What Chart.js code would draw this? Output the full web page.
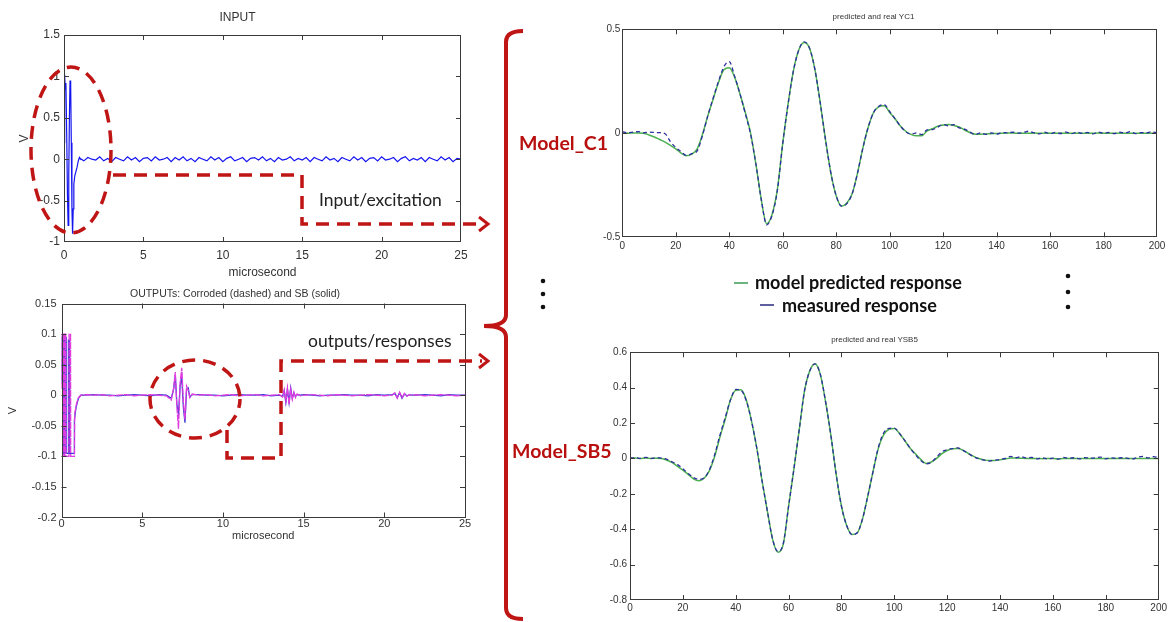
<!DOCTYPE html>
<html>
<head>
<meta charset="utf-8">
<script src="https://cdn.jsdelivr.net/npm/chart.js@4.4.1/dist/chart.umd.min.js"></script>
<style>
  html, body { margin: 0; padding: 0; background: #fff; }
  #page { position: relative; width: 1171px; height: 622px; overflow: hidden; background: #fff; }
  canvas { position: absolute; }
  svg.overlay { position: absolute; left: 0; top: 0; pointer-events: none; }
  .note { position: absolute; white-space: nowrap; font-family: Lato, 'Open Sans', sans-serif; color: #222; font-size: 17.5px; line-height: 18px; }
  .model { position: absolute; white-space: nowrap; font-family: Lato, 'Open Sans', sans-serif; font-weight: bold; color: #b8100f; font-size: 19.5px; line-height: 20px; }
  .leg { position: absolute; white-space: nowrap; font-family: Lato, 'Open Sans', sans-serif; font-weight: bold; color: #111; font-size: 18px; line-height: 18px; }
</style>
</head>
<body>
<div id="page">
  <canvas id="inputChart"></canvas>
  <canvas id="outputChart"></canvas>
  <canvas id="yc1Chart"></canvas>
  <canvas id="ysb5Chart"></canvas>

  <svg class="overlay" width="1171" height="622">
    <g fill="none" stroke="#bf1515" stroke-width="3.5" stroke-dasharray="13 8">
      <ellipse cx="71" cy="150" rx="40" ry="83"/>
      <polyline points="113,175 302,175 302,224 482,224"/>
      <ellipse cx="195" cy="399" rx="45" ry="39" stroke-dashoffset="4"/>
      <polyline points="227,430 227,458 281,458 281,361 482,361"/>
    </g>
    <g fill="none" stroke="#bf1515" stroke-width="3">
      <polyline points="479,217 488,224 479,231"/>
      <polyline points="479,354 488,361 479,368"/>
    </g>
    <path d="M523 31 Q506 31 506 42 L506 315 Q506 326 484 326 Q506 326 506 337 L506 608 Q506 619 523 619"
          fill="none" stroke="#bf1515" stroke-width="4"/>
    <g fill="#111">
      <circle cx="543" cy="281" r="2.3"/>
      <circle cx="543" cy="294" r="2.3"/>
      <circle cx="543" cy="307" r="2.3"/>
      <circle cx="1068" cy="276" r="2.3"/>
      <circle cx="1068" cy="292" r="2.3"/>
      <circle cx="1068" cy="307" r="2.3"/>
    </g>
    <line x1="734" y1="283" x2="748" y2="283" stroke="#3a9a55" stroke-width="1.5"/>
    <line x1="760" y1="305" x2="774" y2="305" stroke="#2a2a80" stroke-width="1.5"/>
  </svg>

  <div class="note" style="left:319px; top:191px;">Input/excitation</div>
  <div class="note" style="left:308px; top:332px;">outputs/responses</div>
  <div class="model" style="left:519px; top:133px;">Model_C1</div>
  <div class="model" style="left:512px; top:441px;">Model_SB5</div>
  <div class="leg" style="left:755px; top:273px;">model predicted response</div>
  <div class="leg" style="left:782px; top:296px;">measured response</div>
</div>

<script>
// ---- INPUT (excitation) ----
const inPulseT = [0, 0.04, 0.08, 0.12, 0.17, 0.22, 0.26, 0.3, 0.34, 0.38, 0.42, 0.46, 0.5, 0.54, 0.58, 0.62, 0.68, 0.75, 0.82, 0.9, 0.97];
const inPulseV = [0.2, 1.02, 0.85, 0.92, 0.3, -0.45, -0.8, -0.2, 0.5, 0.95, 0.9, 0.2, -0.6, -0.9, -0.6, -0.3, -0.2, -0.15, -0.1, -0.02, 0.02];
const inNoiseT = [1, 1.25, 1.5, 1.75, 2, 2.25, 2.5, 2.75, 3, 3.25, 3.5, 3.75, 4, 4.25, 4.5, 4.75,
  5, 5.25, 5.5, 5.75, 6, 6.25, 6.5, 6.75, 7, 7.25, 7.5, 7.75, 8, 8.25, 8.5, 8.75,
  9, 9.25, 9.5, 9.75, 10, 10.25, 10.5, 10.75, 11, 11.25, 11.5, 11.75, 12, 12.25, 12.5, 12.75,
  13, 13.25, 13.5, 13.75, 14, 14.25, 14.5, 14.75, 15, 15.25, 15.5, 15.75, 16, 16.25, 16.5, 16.75,
  17, 17.25, 17.5, 17.75, 18, 18.25, 18.5, 18.75, 19, 19.25, 19.5, 19.75, 20, 20.25, 20.5, 20.75,
  21, 21.25, 21.5, 21.75, 22, 22.25, 22.5, 22.75, 23, 23.25, 23.5, 23.75, 24, 24.25, 24.5, 24.75, 25];
const inNoiseV = [0.01, -0.02, 0.02, 0, -0.01, 0.03, -0.02, 0.01, -0.03, 0.02, 0, -0.02, 0.03, -0.01, 0.02, -0.03,
  0.01, 0.02, -0.02, 0.03, -0.01, 0, 0.02, -0.03, 0.02, -0.01, 0.03, -0.02, 0.01, -0.03, 0.02, 0,
  -0.02, 0.03, -0.01, 0.02, -0.03, 0.01, 0.03, -0.02, 0, 0.02, -0.03, 0.01, 0.02, -0.01, 0.03, -0.02,
  0.01, -0.03, 0.02, -0.01, 0, 0.03, -0.02, 0.01, -0.01, 0.02, -0.03, 0.02, 0, -0.02, 0.03, -0.01,
  0.01, -0.03, 0.02, 0, -0.02, 0.03, -0.01, 0.02, -0.03, 0.01, 0.02, -0.02, 0.03, -0.01, 0, 0.02,
  -0.03, 0.01, 0.03, -0.02, 0.01, -0.01, 0.02, -0.03, 0.02, 0, -0.02, 0.03, -0.01, 0.02, -0.03, 0.01, 0];
const inXTicks = [0, 5, 10, 15, 20, 25];
const inYTicks = [-1, -0.5, 0, 0.5, 1, 1.5];

// ---- OUTPUTS: corroded (dashed) and SB (solid) ----
const corrPulseT = [0, 0.03, 0.13, 0.14, 0.2, 0.21, 0.26, 0.27, 0.46, 0.47, 0.56, 0.57, 0.8, 0.82, 0.92, 1.05, 1.2];
const corrPulseV = [0.01, 0.1, 0.1, -0.1, -0.1, 0.1, 0.1, -0.1, -0.1, 0.1, 0.1, -0.1, -0.1, -0.03, -0.015, -0.004, 0];
const sbPulseT = [0, 0.03, 0.12, 0.13, 0.2, 0.21, 0.28, 0.29, 0.42, 0.43, 0.5, 0.51, 0.78, 0.8, 0.9, 1.05, 1.2];
const sbPulseV = [0.02, 0.095, 0.095, -0.095, -0.095, 0.095, 0.095, -0.095, -0.095, 0.09, 0.09, -0.095, -0.095, -0.04, -0.02, -0.005, 0];
const tailT = [1.5, 2, 2.5, 3, 3.5, 4, 4.5, 5, 5.5, 6, 6.5,
  6.8,
  6.95, 7.05, 7.15, 7.25, 7.35, 7.45, 7.55, 7.65, 7.75, 7.85,
  7.95, 8.1,
  8.5, 9, 9.5, 10, 10.5, 11, 11.5, 12, 12.5, 13, 13.5,
  13.7,
  13.8, 13.9, 14, 14.1, 14.2, 14.3, 14.4, 14.5, 14.6,
  14.8, 15,
  15.5, 16, 16.5, 17, 17.5, 18, 18.5, 19, 19.5, 20, 20.5,
  20.65, 20.8, 20.95, 21.1, 21.25, 21.4, 21.55, 21.7,
  22, 22.5, 23, 23.5, 24, 24.5, 25];
const corrTail = [0.001, 0, 0.001, -0.001, 0, 0.001, -0.001, 0, 0.001, 0, -0.001,
  -0.008,
  0.012, 0.038, -0.02, -0.055, 0.02, 0.045, -0.01, -0.04, 0.015, 0.008,
  -0.004, 0.002,
  0, 0.001, -0.001, 0, 0.001, -0.001, 0, 0.001, -0.001, 0, 0.001,
  -0.003,
  0.009, -0.01, 0.012, -0.015, 0.01, -0.007, 0.005, -0.004, 0.002,
  -0.001, 0,
  0.001, 0, -0.001, 0.001, 0, -0.001, 0, 0.001, 0, -0.001, 0,
  0.004, -0.005, 0.005, -0.004, 0.003, -0.002, 0.001, 0,
  0.001, -0.001, 0, 0.001, 0, -0.001, 0];
const sbTail = [0, 0.001, 0, 0, -0.001, 0, 0.001, 0, -0.001, 0.001, 0,
  -0.005,
  0.01, 0.033, -0.015, -0.03, 0.015, 0.03, -0.02, -0.045, 0.01, 0.012,
  -0.003, 0.001,
  0.001, 0, 0, -0.001, 0, 0.001, 0, 0, 0.001, -0.001, 0,
  -0.002,
  0.007, -0.012, 0.01, -0.012, 0.012, -0.005, 0.004, -0.002, 0.001,
  0, 0.001,
  0, -0.001, 0, 0, 0.001, 0, 0, -0.001, 0.001, 0, 0.001,
  0.003, -0.004, 0.004, -0.005, 0.002, -0.001, 0.001, 0,
  0, 0.001, 0, -0.001, 0.001, 0, 0];
const outXTicks = [0, 5, 10, 15, 20, 25];
const outYTicks = [-0.2, -0.15, -0.1, -0.05, 0, 0.05, 0.1, 0.15];

// ---- predicted and real responses (sample index 0..200) ----
const respT = [0, 2, 4, 6, 8, 10, 12, 14, 16, 18, 20, 22, 24, 26, 28, 30, 32, 34, 36, 38,
  40, 42, 44, 46, 48, 50, 52, 54, 56, 58, 60, 62, 64, 66, 68, 70, 72, 74, 76, 78,
  80, 82, 84, 86, 88, 90, 92, 94, 96, 98, 100, 102, 104, 106, 108, 110, 112, 114, 116, 118,
  120, 122, 124, 126, 128, 130, 132, 134, 136, 138, 140, 142, 144, 146, 148, 150, 152, 154, 156, 158,
  160, 162, 164, 166, 168, 170, 172, 174, 176, 178, 180, 182, 184, 186, 188, 190, 192, 194, 196, 198, 200];
const yc1Pred = [0, 0, 0.002, 0.002, 0, -0.008, -0.018, -0.03, -0.042, -0.058,
  -0.075, -0.095, -0.108, -0.1, -0.075, -0.005, 0.085, 0.165, 0.245, 0.305,
  0.315, 0.27, 0.19, 0.1, 0, -0.15, -0.32, -0.435, -0.39, -0.27,
  -0.05, 0.14, 0.3, 0.4, 0.436, 0.41, 0.31, 0.15, -0.03, -0.19,
  -0.3, -0.35, -0.335, -0.29, -0.19, -0.07, 0.03, 0.1, 0.128, 0.133,
  0.1, 0.07, 0.035, 0.01, -0.005, -0.012, -0.012, 0.012, 0.022, 0.034,
  0.04, 0.042, 0.038, 0.03, 0.016, 0.004, -0.004, -0.004, -0.003, -0.002,
  -0.001, 0, 0.001, 0.001, 0, 0, 0, 0.001, 0, 0,
  0, 0, 0.001, 0, 0, 0, 0, 0, 0, 0.001,
  0, 0, 0, 0, 0, 0, 0, 0, 0, 0, 0];
const yc1Meas = [0.008, 0.002, 0.006, 0.008, 0.002, 0.006, 0.004, 0.003, -0.002, -0.04,
  -0.068, -0.088, -0.106, -0.098, -0.085, -0.01, 0.085, 0.17, 0.25, 0.32,
  0.345, 0.275, 0.19, 0.095, -0.005, -0.15, -0.32, -0.44, -0.395, -0.275,
  -0.05, 0.14, 0.3, 0.4, 0.44, 0.41, 0.31, 0.15, -0.03, -0.19,
  -0.3, -0.35, -0.338, -0.29, -0.19, -0.07, 0.03, 0.1, 0.13, 0.138,
  0.105, 0.07, 0.035, 0.008, -0.004, 0.002, -0.006, 0.016, 0.018, 0.03,
  0.042, 0.036, 0.042, 0.026, 0.02, 0.006, -0.006, 0.002, -0.005, 0.002,
  -0.004, 0.004, 0.002, 0.005, 0.001, 0.004, 0.01, 0.002, -0.003, 0.005,
  -0.002, 0.004, -0.001, 0.006, -0.002, 0.005, 0, 0.004, -0.003, 0.006,
  0, 0.004, -0.002, 0.005, 0.001, 0.008, -0.002, 0.003, 0.002, 0.007, 0.002];
const ysb5Pred = [0, 0.002, 0, 0.002, 0, 0.001, 0, -0.01, -0.024, -0.045,
  -0.066, -0.09, -0.115, -0.126, -0.112, -0.07, 0.01, 0.12, 0.22, 0.33,
  0.385, 0.388, 0.33, 0.21, 0.055, -0.13, -0.3, -0.46, -0.53, -0.484,
  -0.27, -0.06, 0.16, 0.38, 0.495, 0.535, 0.475, 0.32, 0.13, -0.09,
  -0.27, -0.38, -0.43, -0.42, -0.34, -0.21, -0.07, 0.06, 0.135, 0.165,
  0.17, 0.14, 0.1, 0.058, 0.026, -0.005, -0.028, -0.02, 0, 0.027,
  0.045, 0.055, 0.056, 0.046, 0.028, 0.012, 0, -0.008, -0.012, -0.012,
  -0.008, -0.003, 0.002, 0.002, 0.001, 0, 0, 0, -0.001, 0,
  0, -0.002, 0, 0, 0, 0, 0, 0, 0, 0,
  0, 0, 0, 0, 0, 0, 0, 0, 0, 0, 0];
const ysb5Meas = [0.002, 0.004, 0, 0.006, 0, 0.005, 0.002, -0.005, -0.02, -0.035,
  -0.058, -0.085, -0.108, -0.118, -0.11, -0.065, 0.02, 0.13, 0.23, 0.33,
  0.39, 0.385, 0.325, 0.21, 0.055, -0.13, -0.3, -0.46, -0.525, -0.48,
  -0.27, -0.06, 0.16, 0.38, 0.495, 0.535, 0.475, 0.32, 0.13, -0.09,
  -0.27, -0.38, -0.43, -0.42, -0.34, -0.21, -0.07, 0.065, 0.145, 0.17,
  0.172, 0.14, 0.1, 0.058, 0.02, -0.012, -0.03, -0.022, 0.008, 0.038,
  0.05, 0.055, 0.06, 0.046, 0.028, 0.01, -0.002, -0.01, -0.015, -0.01,
  -0.006, 0, 0.012, 0.004, 0.01, 0.003, 0.006, -0.002, 0.004, -0.003,
  0.002, -0.004, 0.006, 0.001, 0.004, -0.002, 0.005, 0.002, 0.004, 0.008,
  -0.002, 0.003, 0.001, 0.004, 0.002, -0.003, 0.006, 0.012, 0.003, 0.01, 0.004];
const respXTicks = [0, 20, 40, 60, 80, 100, 120, 140, 160, 180, 200];
const yc1YTicks = [-0.5, 0, 0.5];
const ysb5YTicks = [-0.8, -0.6, -0.4, -0.2, 0, 0.2, 0.4, 0.6];

const MATLAB_FONT = "'Liberation Sans', Arial, sans-serif";
const NARROW_FONT = "'Liberation Sans Narrow', 'Liberation Sans', Arial, sans-serif";

const pts = (t, v) => t.map((x, i) => ({ x, y: v[i] }));

// axes box with inward tick marks on all four sides
const boxTicks = {
  id: 'boxTicks',
  afterDatasetsDraw(chart) {
    const { ctx, chartArea: a, scales: { x, y } } = chart;
    const len = 5;
    ctx.save();
    ctx.strokeStyle = '#3a3a3a';
    ctx.lineWidth = 1;
    ctx.beginPath();
    x.ticks.forEach(t => {
      const p = Math.round(x.getPixelForValue(t.value)) + 0.5;
      if (p < a.left + 2 || p > a.right - 2) return;
      ctx.moveTo(p, a.top); ctx.lineTo(p, a.top + len);
      ctx.moveTo(p, a.bottom); ctx.lineTo(p, a.bottom - len);
    });
    y.ticks.forEach(t => {
      const p = Math.round(y.getPixelForValue(t.value)) + 0.5;
      if (p < a.top + 2 || p > a.bottom - 2) return;
      ctx.moveTo(a.left, p); ctx.lineTo(a.left + len, p);
      ctx.moveTo(a.right, p); ctx.lineTo(a.right - len, p);
    });
    ctx.stroke();
    ctx.strokeRect(Math.round(a.left) + 0.5, Math.round(a.top) + 0.5, Math.round(a.width) - 1, Math.round(a.height) - 1);
    ctx.restore();
  }
};

function makeChart(id, box, datasets, o) {
  const cv = document.getElementById(id);
  cv.width = box.w;
  cv.height = box.h;
  cv.style.left = box.x + 'px';
  cv.style.top = box.y + 'px';

  return new Chart(cv, {
    type: 'line',
    data: { datasets },
    plugins: [boxTicks],
    options: {
      responsive: false,
      animation: false,
      events: [],
      layout: { padding: { left: 0, right: box.padR, top: 0, bottom: 0 } },
      elements: { point: { radius: 0 }, line: { tension: 0 } },
      scales: {
        x: {
          type: 'linear',
          min: o.xTicks[0],
          max: o.xTicks[o.xTicks.length - 1],
          afterBuildTicks: s => { s.ticks = o.xTicks.map(v => ({ value: v })); },
          afterFit: s => { s.height = box.hx; },
          grid: { display: false, drawTicks: false },
          border: { display: false },
          ticks: { autoSkip: false, maxRotation: 0, padding: o.xPad, color: '#333',
                   font: { family: o.tickFont, size: o.tickSize }, callback: v => String(v) },
          title: o.xTitle ? { display: true, text: o.xTitle, color: '#333',
                   font: { family: MATLAB_FONT, size: o.tickSize }, padding: { top: 0, bottom: o.xTitlePad } } : { display: false }
        },
        y: {
          type: 'linear',
          min: o.yTicks[0],
          max: o.yTicks[o.yTicks.length - 1],
          afterBuildTicks: s => { s.ticks = o.yTicks.map(v => ({ value: v })); },
          afterFit: s => { s.width = box.wy; },
          grid: { display: false, drawTicks: false },
          border: { display: false },
          ticks: { autoSkip: false, padding: o.yPad, color: '#333',
                   font: { family: o.tickFont, size: o.tickSize }, callback: v => String(v) },
          title: o.yTitle ? { display: true, text: o.yTitle, color: '#333',
                   font: { family: MATLAB_FONT, size: o.tickSize }, padding: { top: o.yTitlePad, bottom: 0 } } : { display: false }
        }
      },
      plugins: {
        legend: { display: false },
        tooltip: { enabled: false },
        title: { display: true, text: o.title, color: '#333',
                 font: { family: o.titleFont, size: o.titleSize, weight: 'normal' },
                 padding: { top: o.titlePadTop, bottom: o.titlePadBottom } }
      }
    }
  });
}

makeChart('inputChart',
  { x: 14, y: 5, w: 462, h: 277, wy: 50, hx: 40, padR: 15 },
  [{ data: pts(inPulseT, inPulseV).concat(pts(inNoiseT, inNoiseV)), borderColor: '#1515f0', borderWidth: 1.2 }],
  { xTicks: inXTicks, yTicks: inYTicks, tickFont: MATLAB_FONT, tickSize: 12, xPad: 6, yPad: 4,
    xTitle: 'microsecond', xTitlePad: 1.8, yTitle: 'V', yTitlePad: 3.8,
    title: 'INPUT', titleFont: MATLAB_FONT, titleSize: 12, titlePadTop: 5, titlePadBottom: 10.6 });

// lower "order" is painted on top
makeChart('outputChart',
  { x: 5, y: 286, w: 475, h: 258, wy: 56.5, hx: 26.5, padR: 15 },
  [
    { data: pts(sbPulseT, sbPulseV).concat(pts(tailT, sbTail)), borderColor: '#3b3bd8', borderWidth: 1.3, order: 2 },
    { data: pts(corrPulseT, corrPulseV).concat(pts(tailT, corrTail)), borderColor: '#e03ce0', borderWidth: 1.3, borderDash: [7, 1], order: 1 }
  ],
  { xTicks: outXTicks, yTicks: outYTicks, tickFont: MATLAB_FONT, tickSize: 11, xPad: 0, yPad: 5,
    xTitle: 'microsecond', xTitlePad: 1.7, yTitle: 'V', yTitlePad: 1.7,
    title: 'OUTPUTs: Corroded (dashed) and SB (solid)', titleFont: MATLAB_FONT, titleSize: 10.5, titlePadTop: 2, titlePadBottom: 2.9 });

const smooth = { cubicInterpolationMode: 'monotone' };

makeChart('yc1Chart',
  { x: 590, y: 8, w: 579, h: 250, wy: 32.3, hx: 20.7, padR: 12 },
  [
    { data: pts(respT, yc1Pred), borderColor: '#4caf50', borderWidth: 1.5, order: 2, ...smooth },
    { data: pts(respT, yc1Meas), borderColor: '#2e2ea0', borderWidth: 1.3, borderDash: [4, 3], order: 1, ...smooth }
  ],
  { xTicks: respXTicks, yTicks: yc1YTicks, tickFont: NARROW_FONT, tickSize: 10, xPad: 3, yPad: 2,
    title: 'predicted and real YC1', titleFont: NARROW_FONT, titleSize: 8, titlePadTop: 4.2, titlePadBottom: 7.5 });

makeChart('ysb5Chart',
  { x: 590, y: 331, w: 579, h: 289, wy: 40, hx: 20, padR: 10 },
  [
    { data: pts(respT, ysb5Pred), borderColor: '#4caf50', borderWidth: 1.5, order: 2, ...smooth },
    { data: pts(respT, ysb5Meas), borderColor: '#2e2ea0', borderWidth: 1.3, borderDash: [4, 3], order: 1, ...smooth }
  ],
  { xTicks: respXTicks, yTicks: ysb5YTicks, tickFont: NARROW_FONT, tickSize: 10, xPad: 2, yPad: 3,
    title: 'predicted and real YSB5', titleFont: NARROW_FONT, titleSize: 8, titlePadTop: 4.2, titlePadBottom: 7.5 });
</script>
</body>
</html>
